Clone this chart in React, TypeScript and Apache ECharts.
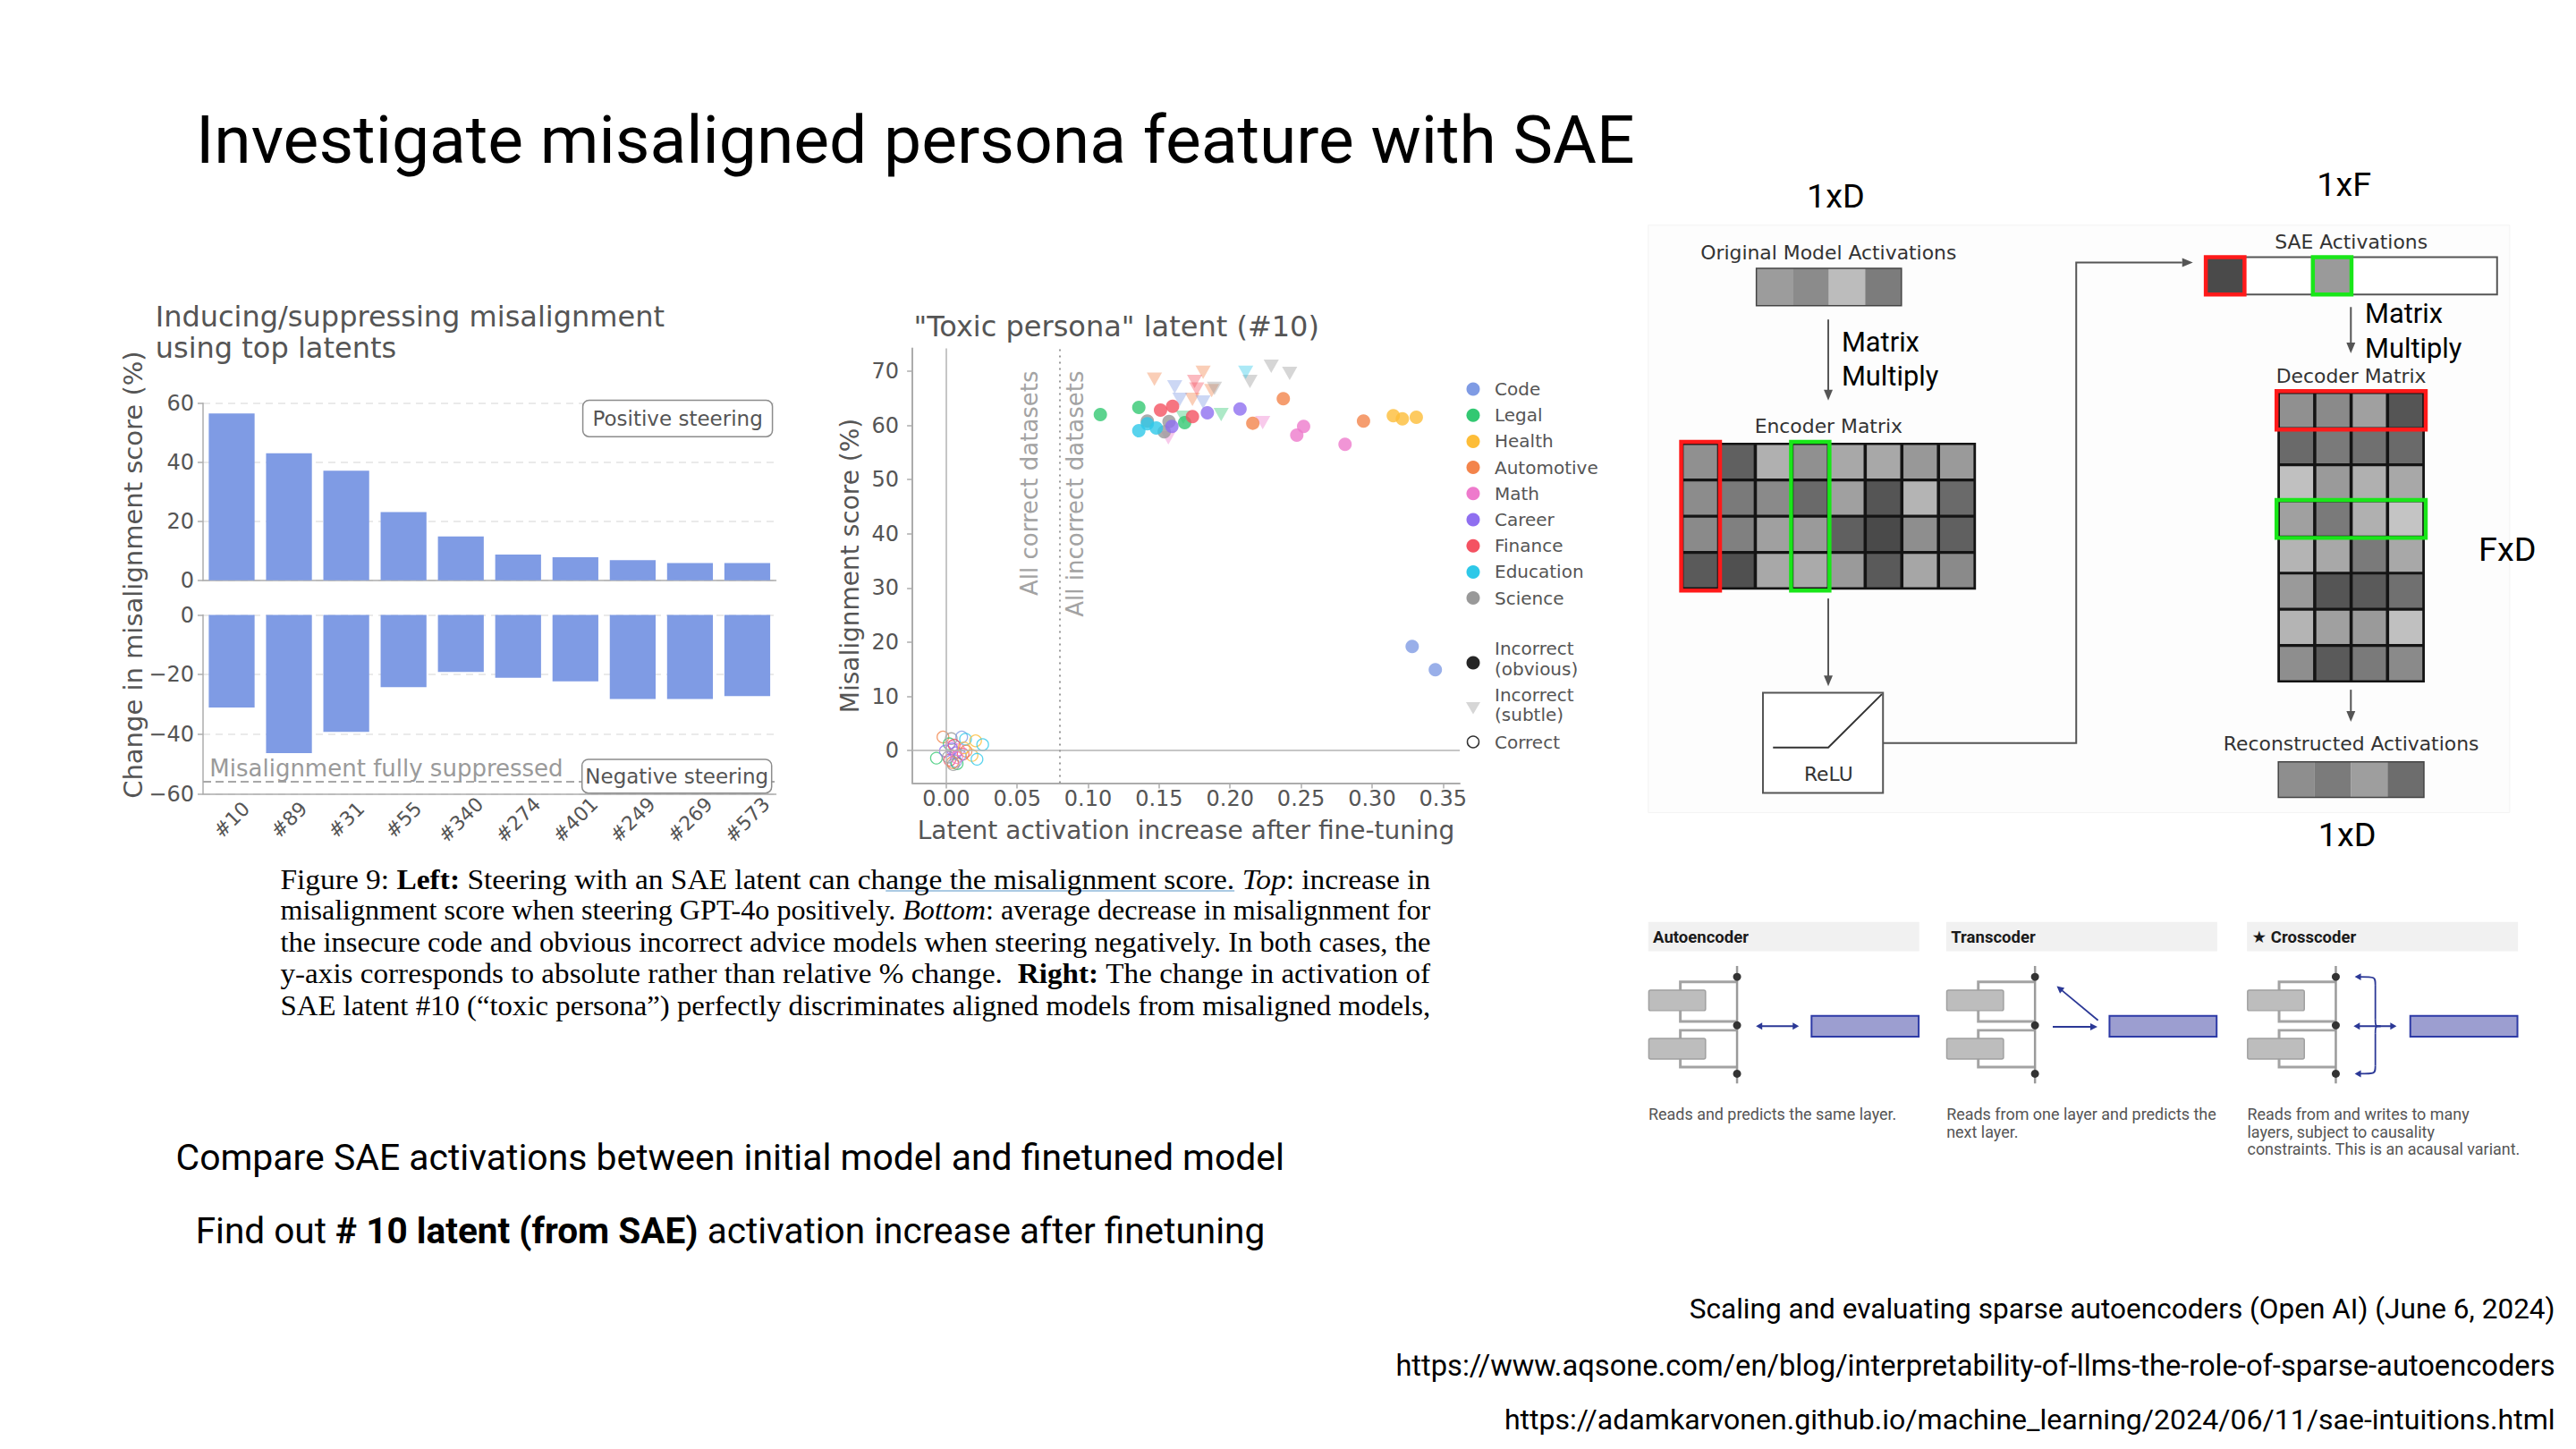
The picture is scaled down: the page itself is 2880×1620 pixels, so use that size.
import React, { useEffect, useRef } from "react";
import * as echarts from "echarts";

/* ================= Left chart: steering bars ================= */
const latentLabels = ["#10", "#89", "#31", "#55", "#340", "#274", "#401", "#249", "#269", "#573"];
const positiveSteering = [56.5, 43.0, 37.1, 23.1, 14.8, 8.7, 7.8, 6.8, 5.8, 5.8];
const negativeSteering = [-31.0, -46.3, -39.2, -24.2, -19.1, -21.1, -22.3, -28.2, -28.2, -27.2];
const fullySuppressedLevel = -55.7;

/* ================= Right chart: toxic persona latent ================= */
const domainNames = ["Code", "Legal", "Health", "Automotive", "Math", "Career", "Finance", "Education", "Science"];
const domainColors = ["#7f9be4", "#33c872", "#fdbd38", "#f3844b", "#ee7acc", "#8f6ff0", "#f45262", "#2ec8e8", "#999999"];
const scatterXTicks = [0, 0.05, 0.1, 0.15, 0.2, 0.25, 0.3, 0.35];
const scatterYTicks = [0, 10, 20, 30, 40, 50, 60, 70];
const correctBoundary = 0.0755;

// [domain, latent activation increase, misalignment score]
const incorrectObvious: [string, number, number][] = [
  ["Science", 0.1417, 60.8], ["Science", 0.157, 60.7], ["Science", 0.1536, 58.8],
  ["Legal", 0.1086, 62.0], ["Legal", 0.1357, 63.3], ["Legal", 0.168, 60.5],
  ["Education", 0.1357, 59.0], ["Education", 0.1417, 60.3], ["Education", 0.148, 59.5],
  ["Finance", 0.151, 62.8], ["Finance", 0.1595, 63.5], ["Finance", 0.1735, 61.6],
  ["Career", 0.159, 59.8], ["Career", 0.184, 62.3], ["Career", 0.207, 63.0],
  ["Automotive", 0.2375, 64.9], ["Automotive", 0.216, 60.4], ["Automotive", 0.294, 60.8],
  ["Math", 0.2518, 59.8], ["Math", 0.247, 58.2], ["Math", 0.281, 56.5],
  ["Health", 0.315, 61.8], ["Health", 0.3214, 61.2], ["Health", 0.3312, 61.5],
  ["Code", 0.3283, 19.2], ["Code", 0.3446, 14.9],
];
const incorrectSubtle: [string, number, number][] = [
  ["Automotive", 0.1467, 68.5], ["Automotive", 0.181, 69.8], ["Automotive", 0.1735, 64.8], ["Automotive", 0.187, 66.4],
  ["Code", 0.161, 67.1], ["Code", 0.1646, 64.8], ["Code", 0.181, 64.3],
  ["Finance", 0.175, 68.1], ["Finance", 0.1765, 66.7],
  ["Science", 0.189, 66.8], ["Science", 0.214, 68.1], ["Science", 0.229, 70.9], ["Science", 0.242, 69.6],
  ["Education", 0.211, 69.8],
  ["Legal", 0.1937, 62.0], ["Legal", 0.167, 61.5],
  ["Math", 0.223, 60.5], ["Math", 0.1565, 57.7],
];
const correctPoints: [string, number, number][] = [
  ["Automotive", -0.0023, 2.5], ["Legal", -0.0069, -1.4], ["Science", 0.0036, 2.2], ["Legal", 0.0021, 1.25],
  ["Code", 0.0109, 2.5], ["Education", 0.0136, 2.1], ["Health", 0.0207, 1.8], ["Education", 0.0257, 1.1],
  ["Career", -0.0006, -0.1], ["Math", 0.0036, 0.7], ["Finance", 0.0025, -1.75], ["Code", 0.0067, -2.0],
  ["Legal", 0.0077, -2.4], ["Science", 0.005, -2.6], ["Health", 0.0182, -0.9], ["Education", 0.0217, -1.6],
  ["Finance", 0.0119, -0.65], ["Math", 0.0088, 0.16], ["Career", 0.0067, -0.4], ["Automotive", 0.014, -0.1],
  ["Finance", 0.0056, 1.0], ["Code", 0.0098, -0.9], ["Automotive", 0.0045, -2.2], ["Science", 0.0015, -1.2],
  ["Career", 0.004, 0.3], ["Health", 0.0125, 0.5], ["Math", 0.0075, -1.3],
];

/* ================= SAE diagram shades ================= */
const originalShades = ["#9c9c9c", "#8b8b8b", "#bcbcbc", "#7c7c7c"];
const encoderShades = [
  ["#909090", "#606060", "#b0b0b0", "#909090", "#a8a8a8", "#a8a8a8", "#989898", "#9a9a9a"],
  ["#8c8c8c", "#7a7a7a", "#8a8a8a", "#6a6a6a", "#a0a0a0", "#555555", "#b4b4b4", "#6a6a6a"],
  ["#8a8a8a", "#808080", "#a0a0a0", "#9a9a9a", "#606060", "#4a4a4a", "#8e8e8e", "#606060"],
  ["#5a5a5a", "#505050", "#a8a8a8", "#aaaaaa", "#9a9a9a", "#5a5a5a", "#a6a6a6", "#8a8a8a"],
];
const decoderShades = [
  ["#909090", "#8a8a8a", "#a0a0a0", "#555555"],
  ["#6a6a6a", "#7a7a7a", "#707070", "#6a6a6a"],
  ["#c0c0c0", "#9a9a9a", "#b0b0b0", "#a8a8a8"],
  ["#a0a0a0", "#7a7a7a", "#b0b0b0", "#c4c4c4"],
  ["#b4b4b4", "#a8a8a8", "#7a7a7a", "#a8a8a8"],
  ["#9a9a9a", "#555555", "#5a5a5a", "#707070"],
  ["#b4b4b4", "#a0a0a0", "#9a9a9a", "#c0c0c0"],
  ["#8e8e8e", "#5a5a5a", "#7a7a7a", "#8a8a8a"],
];
const reconstructedShades = ["#8e8e8e", "#7b7b7b", "#9e9e9e", "#6d6d6d"];

/* ================= Slide texts ================= */
const slideTitle = "Investigate misaligned persona feature with SAE";
const captionLines: [string, string][][] = [
  [["n", "Figure 9: "], ["b", "Left:"], ["n", " Steering with an SAE latent can change the misalignment score. "], ["i", "Top"], ["n", ": increase in"]],
  [["n", "misalignment score when steering GPT-4o positively. "], ["i", "Bottom"], ["n", ": average decrease in misalignment for"]],
  [["n", "the insecure code and obvious incorrect advice models when steering negatively. In both cases, the"]],
  [["n", "y-axis corresponds to absolute rather than relative % change.  "], ["b", "Right:"], ["n", " The change in activation of"]],
  [["n", "SAE latent #10 (\u201ctoxic persona\u201d) perfectly discriminates aligned models from misaligned models,"]],
];
const bullet1 = "Compare SAE activations between initial model and finetuned model";
const bullet2: [string, string][] = [["n", "Find out "], ["b", "# 10 latent (from SAE)"], ["n", " activation increase after finetuning"]];
const references = [
  "Scaling and evaluating sparse autoencoders (Open AI) (June 6, 2024)",
  "https://www.aqsone.com/en/blog/interpretability-of-llms-the-role-of-sparse-autoencoders",
  "https://adamkarvonen.github.io/machine_learning/2024/06/11/sae-intuitions.html",
];

/* ================= helpers ================= */
const MPL = "'DejaVu Sans'";
const PPT = "Roboto, 'DejaVu Sans'";
const GT = "#555555";
const AX = "#acacac";
const SLIDE_K = 1.837 / 1.846; // layout measured on a slightly mis-scaled view

let measureCtx: CanvasRenderingContext2D | null = null;
function measure(text: string, font: string): number {
  if (!measureCtx) measureCtx = document.createElement("canvas").getContext("2d");
  if (!measureCtx) return text.length * 10;
  measureCtx.font = font;
  return measureCtx.measureText(text).width;
}
function colorOf(d: string) {
  return domainColors[domainNames.indexOf(d)];
}
function T(text: string, x: number, y: number, font: string, fill: string, align = "left", extra: any = {}) {
  return {
    type: "text", x, y, z: 20, silent: true, ...extra,
    style: { text, font, fill, align, verticalAlign: "middle", textAlign: align, textVerticalAlign: "middle" },
  };
}
function R(x: number, y: number, w: number, h: number, fill: string | null, stroke?: string, lw = 1, r = 0) {
  return { type: "rect", z: 15, silent: true, shape: { x, y, width: w, height: h, r }, style: { fill, stroke: stroke || null, lineWidth: lw } };
}
function L(x1: number, y1: number, x2: number, y2: number, stroke: string, lw = 2) {
  return { type: "line", z: 15, silent: true, shape: { x1, y1, x2, y2 }, style: { stroke, lineWidth: lw } };
}
function P(points: number[][], stroke: string, lw = 2) {
  return { type: "polyline", z: 15, silent: true, shape: { points }, style: { stroke, lineWidth: lw, fill: null } };
}
function C(cx: number, cy: number, r: number, fill: string | null, stroke?: string, lw = 1) {
  return { type: "circle", z: 16, silent: true, shape: { cx, cy, r }, style: { fill, stroke: stroke || null, lineWidth: lw } };
}
function head(tx: number, ty: number, dx: number, dy: number, color: string, len = 12, half = 5) {
  const l = Math.hypot(dx, dy);
  const ux = dx / l, uy = dy / l;
  const bx = tx - ux * len, by = ty - uy * len;
  const px = -uy, py = ux;
  return {
    type: "polygon", z: 17, silent: true,
    shape: { points: [[tx, ty], [bx + px * half, by + py * half], [bx - px * half, by - py * half]] },
    style: { fill: color },
  };
}
function segFont(style: string, size: number, family: string) {
  return `${style === "i" ? "italic " : ""}${style === "b" ? "bold " : ""}${size}px ${family}`;
}
function segWidth(segs: [string, string][], size: number, family: string) {
  return segs.reduce((a, [s, t]) => a + measure(t, segFont(s, size, family)), 0);
}
function segLine(segs: [string, string][], x: number, y: number, size: number, family: string, fill: string, scaleX = 1) {
  const children: any[] = [];
  let pos = 0;
  segs.forEach(([s, t]) => {
    const f = segFont(s, size, family);
    const lead = (t.match(/^ */) || [""])[0];
    const content = t.trim();
    if (content) children.push(T(content, pos + measure(lead, f), 0, f, fill));
    pos += measure(t, f);
  });
  return { type: "group", x, y, scaleX, z: 20, silent: true, children };
}

/* ================= chart decorations (absolute) ================= */
function chartDecorations() {
  const g: any[] = [];
  // left chart
  g.push(T("Inducing/suppressing misalignment", 173.7, 353.8, `32px ${MPL}`, GT));
  g.push(T("using top latents", 173.7, 388.5, `32px ${MPL}`, GT));
  g.push(T("Change in misalignment score (%)", 149.4, 642.6, `29px ${MPL}`, GT, "center", { rotation: Math.PI / 2 }));
  g.push(T("Misalignment fully suppressed", 234.3, 859, `26px ${MPL}`, "#9a9a9a"));
  g.push(R(651.6, 447.4, 212, 40.8, "#ffffff", "#8c8c8c", 1.5, 7));
  g.push(T("Positive steering", 757.6, 467.8, `23px ${MPL}`, GT, "center"));
  g.push(R(650.7, 849, 212, 37.7, "#ffffff", "#8c8c8c", 1.5, 7));
  g.push(T("Negative steering", 756.7, 867.9, `23px ${MPL}`, GT, "center"));

  // right chart
  g.push(T('"Toxic persona" latent (#10)', 1021.5, 365, `32px ${MPL}`, GT));
  g.push(T("Misalignment score (%)", 950.7, 632.5, `28px ${MPL}`, GT, "center", { rotation: Math.PI / 2 }));
  g.push(T("Latent activation increase after fine-tuning", 1326, 928, `28px ${MPL}`, GT, "center"));
  g.push(T("All correct datasets", 1151.3, 414.4, `26px ${MPL}`, "#a3a3a3", "right", { rotation: Math.PI / 2 }));
  g.push(T("All incorrect datasets", 1201.9, 414.4, `26px ${MPL}`, "#a3a3a3", "right", { rotation: Math.PI / 2 }));

  // legend
  domainNames.forEach((n, i) => {
    const y = 435 + i * 29.2;
    g.push(C(1647, y, 7.5, domainColors[i]));
    g.push(T(n, 1671, y, `20px ${MPL}`, GT));
  });
  g.push(C(1647, 741, 7.5, "#262626"));
  g.push(T("Incorrect", 1671, 725, `20px ${MPL}`, GT));
  g.push(T("(obvious)", 1671, 747.5, `20px ${MPL}`, GT));
  g.push({ type: "polygon", z: 16, silent: true, shape: { points: [[1639, 785], [1655, 785], [1647, 798.5]] }, style: { fill: "#d6d6d6" } });
  g.push(T("Incorrect", 1671, 776.5, `20px ${MPL}`, GT));
  g.push(T("(subtle)", 1671, 798.5, `20px ${MPL}`, GT));
  g.push(C(1647, 829.5, 6.5, null, "#333333", 1.5));
  g.push(T("Correct", 1671, 829.5, `20px ${MPL}`, GT));
  return g;
}

/* ================= slide elements (measured on the overview) ================= */
function slideElements() {
  const g: any[] = [];

  const titleSize = (76 * 1617) / measure(slideTitle, `76px ${PPT}`);
  g.push(T(slideTitle, 220, 157, `${titleSize}px ${PPT}`, "#000000"));

  // caption
  const capX0 = 315, capX1 = 1607;
  const capYs = [988, 1023, 1058.5, 1094, 1130];
  const capFamily = "'Liberation Serif'";
  let capSize = 31;
  const maxNat = Math.max(...captionLines.map((l) => segWidth(l, capSize, capFamily)));
  if (maxNat > capX1 - capX0) capSize = (capSize * (capX1 - capX0)) / maxNat;
  captionLines.forEach((l, i) => {
    const nat = segWidth(l, capSize, capFamily);
    const sx = (capX1 - capX0) / nat;
    g.push(segLine(l, capX0, capYs[i], capSize, capFamily, "#000000", sx));
    if (i === 0) {
      const pre: [string, string][] = [["n", "Figure 9: "], ["b", "Left:"], ["n", " Steering with an SAE latent can ch"]];
      const a = capX0 + sx * segWidth(pre, capSize, capFamily);
      const b = a + sx * measure("ange the misalignment score.", segFont("n", capSize, capFamily));
      g.push(L(a, 1001, b, 1001, "#8fb9da", 1.5));
    }
  });

  // bullets
  const b1Size = (40 * 1246) / measure(bullet1, `40px ${PPT}`);
  g.push(T(bullet1, 197.5, 1300, `${b1Size}px ${PPT}`, "#000000"));
  const b2Size = (40 * 1202) / segWidth(bullet2, 40, PPT);
  g.push(segLine(bullet2, 219.7, 1383, b2Size, PPT, "#000000"));

  // references
  const refW = [973, 1303, 1181];
  const refY = [1471, 1534, 1595];
  references.forEach((r, i) => {
    const s = (30 * refW[i]) / measure(r, `30px ${PPT}`);
    g.push(T(r, 2870.6, refY[i], `${s}px ${PPT}`, "#000000", "right"));
  });

  // ---- SAE diagram ----
  g.push({ ...R(1852, 253, 968, 660, "#fdfdfd", "#f3f3f3", 1), z: 5 });
  g.push(T("1xD", 2062.4, 220, `38px ${PPT}`, "#000000", "center"));
  g.push(T("1xF", 2633.5, 207.5, `38px ${PPT}`, "#000000", "center"));
  g.push(T("FxD", 2817, 617.5, `38px ${PPT}`, "#000000", "center"));
  g.push(T("1xD", 2637, 937.5, `38px ${PPT}`, "#000000", "center"));

  const dark = "#555555";
  g.push(T("Original Model Activations", 2054.3, 283.5, `22px ${MPL}`, "#333333", "center"));
  originalShades.forEach((c, i) => g.push(R(1973.5 + i * 40.75, 301.5, 40.75, 42, c)));
  g.push(R(1973.5, 301.5, 163, 42, null, "#444444", 1.5));

  g.push(L(2054.3, 359, 2054.3, 440, dark, 2));
  g.push(head(2054.3, 450, 0, 1, dark));
  g.push(T("Matrix", 2069, 384, `31px ${PPT}`, "#000000"));
  g.push(T("Multiply", 2069, 422.5, `31px ${PPT}`, "#000000"));

  g.push(T("Encoder Matrix", 2054.3, 479, `22px ${MPL}`, "#333333", "center"));
  const ex0 = 1890, ey0 = 498.5, ecw = 41.16, ech = 40.75;
  g.push(R(ex0 - 1, ey0 - 1, ecw * 8 + 2, ech * 4 + 2, "#141414"));
  encoderShades.forEach((row, r) =>
    row.forEach((c, k) => g.push(R(ex0 + k * ecw + 1.8, ey0 + r * ech + 1.6, ecw - 3.6, ech - 3.2, c)))
  );
  g.push({ ...R(ex0 - 1, ey0 - 2, ecw + 2.5, ech * 4 + 4, null, "#ff1a1a", 4.5), z: 18 });
  g.push({ ...R(ex0 + 3 * ecw - 1, ey0 - 2, ecw + 2, ech * 4 + 4, null, "#19e619", 4.5), z: 18 });

  g.push(L(2054.3, 672.5, 2054.3, 760, dark, 2));
  g.push(head(2054.3, 771, 0, 1, dark));
  g.push(R(1980.9, 778.5, 134.9, 112.5, "#ffffff", dark, 2));
  g.push(P([[1992.2, 840], [2054.3, 840], [2114.5, 780]], "#333333", 2));
  g.push(T("ReLU", 2054.3, 870, `22px ${MPL}`, "#333333", "center"));

  g.push(P([[2115.8, 835], [2332.9, 835], [2332.9, 295], [2452, 295]], dark, 2));
  g.push(head(2464, 295, 1, 0, dark));

  g.push(T("SAE Activations", 2641.5, 271.5, `22px ${MPL}`, "#333333", "center"));
  g.push(R(2478.5, 289, 327.3, 42, "#ffffff", "#555555", 2));
  g.push({ ...R(2478.5, 289, 43.5, 42, "#4a4a4a", "#ff1a1a", 4.5), z: 18 });
  g.push({ ...R(2598.8, 289, 43.4, 42, "#9a9a9a", "#19e619", 4.5), z: 18 });

  g.push(L(2641.5, 345, 2641.5, 386, dark, 2));
  g.push(head(2641.5, 397, 0, 1, dark));
  g.push(T("Matrix", 2657, 352.5, `31px ${PPT}`, "#000000"));
  g.push(T("Multiply", 2657, 391.5, `31px ${PPT}`, "#000000"));

  g.push(T("Decoder Matrix", 2641.5, 422.5, `22px ${MPL}`, "#333333", "center"));
  const dx0 = 2560, dy0 = 441, dcw = 40.9, dch = 40.6;
  g.push(R(dx0 - 1, dy0 - 1, dcw * 4 + 2, dch * 8 + 2, "#141414"));
  decoderShades.forEach((row, r) =>
    row.forEach((c, k) => g.push(R(dx0 + k * dcw + 1.8, dy0 + r * dch + 1.6, dcw - 3.6, dch - 3.2, c)))
  );
  g.push({ ...R(dx0 - 2, dy0 - 1.5, dcw * 4 + 4, dch + 2.5, null, "#ff1a1a", 4.5), z: 18 });
  g.push({ ...R(dx0 - 2, dy0 + 3 * dch - 1, dcw * 4 + 4, dch + 2, null, "#19e619", 4.5), z: 18 });

  g.push(L(2641.5, 775, 2641.5, 800, dark, 2));
  g.push(head(2641.5, 811, 0, 1, dark));
  g.push(T("Reconstructed Activations", 2641.5, 836, `22px ${MPL}`, "#333333", "center"));
  reconstructedShades.forEach((c, i) => g.push(R(2560 + i * 40.9, 856, 40.9, 40, c)));
  g.push(R(2560, 856, 163.6, 40, null, "#444444", 1.5));

  // ---- autoencoder / transcoder / crosscoder panels ----
  const PX = (zx: number) => 1844.3 + zx * 0.6438;
  const PY = (zy: number) => 1025 + zy * 0.33;
  const navy = "#2b3896";
  const headSize = (16 * 107.5) / measure("Autoencoder", `bold 16px ${PPT}`);
  const bodySize = (16 * 278.8) / measure("Reads and predicts the same layer.", `16px ${PPT}`);
  const panel = (b: number, title: string, lines: string[]) => {
    g.push(R(PX(b), PY(33), 473 * 0.6438, 100 * 0.33, "#f1f1f1"));
    g.push(T(title, PX(b + 8), PY(85), `bold ${headSize}px ${PPT}`, "#1a1a1a"));
    const rx = PX(b + 155), bx = PX(b + 56);
    const br = "#a3a3a3";
    g.push(P([[rx, PY(237)], [bx, PY(237)], [bx, PY(265)]], br, 3));
    g.push(P([[bx, PY(335)], [bx, PY(372)], [rx, PY(372)]], br, 3));
    g.push(P([[rx, PY(402)], [bx, PY(402)], [bx, PY(430)]], br, 3));
    g.push(P([[bx, PY(500)], [bx, PY(527)], [rx, PY(527)]], br, 3));
    g.push({ ...R(PX(b + 1), PY(265), 99 * 0.6438, 70 * 0.33, "#bdbdbd", "#a0a0a0", 1.5, 2), z: 16 });
    g.push({ ...R(PX(b + 1), PY(430), 99 * 0.6438, 70 * 0.33, "#bdbdbd", "#a0a0a0", 1.5, 2), z: 16 });
    g.push(L(rx, PY(183), rx, PY(583), "#9a9a9a", 2.5));
    [220, 385, 550].forEach((zy) => g.push(C(rx, PY(zy), 4.5, "#333333")));
    g.push({ ...R(PX(b + 285), PY(353), 187 * 0.6438, 71 * 0.33, "#9c9ed0", "#2d3aa6", 2), z: 16 });
    lines.forEach((l, i) => g.push(T(l, PX(b), PY(688) + i * 19.6, `${bodySize}px ${PPT}`, "#555555")));
  };
  panel(12, "Autoencoder", ["Reads and predicts the same layer."]);
  panel(532, "Transcoder", ["Reads from one layer and predicts the", "next layer."]);
  panel(1057, "\u2605 Crosscoder", ["Reads from and writes to many", "layers, subject to causality", "constraints. This is an acausal variant."]);

  g.push(L(PX(205), PY(388), PX(270), PY(388), navy, 2));
  g.push(head(PX(200), PY(388), -1, 0, navy, 7, 4));
  g.push(head(PX(275), PY(388), 1, 0, navy, 7, 4));
  g.push(L(PX(718), PY(390), PX(788), PY(390), navy, 2));
  g.push(head(PX(796), PY(390), 1, 0, navy, 8, 4));
  g.push(L(PX(797), PY(368), PX(729), PY(258), navy, 1.8));
  g.push(head(PX(725), PY(252), PX(725) - PX(797), PY(252) - PY(368), navy, 8, 4));
  const sx = PX(1281), yT = PY(220), yM = PY(388), yB = PY(550), tipX = PX(1245);
  g.push(L(PX(1248), yM, PX(1312), yM, navy, 2));
  g.push(head(PX(1243), yM, -1, 0, navy, 7, 4));
  g.push(head(PX(1318), yM, 1, 0, navy, 7, 4));
  const bz = (x1: number, y1: number, cx: number, cy: number, x2: number, y2: number) => ({
    type: "bezierCurve", z: 15, silent: true,
    shape: { x1, y1, cpx1: cx, cpy1: cy, cpx2: cx, cpy2: cy, x2, y2 },
    style: { stroke: navy, lineWidth: 1.8, fill: null },
  });
  g.push(bz(tipX + 5, yT, sx, yT, sx, yT + 9));
  g.push(L(sx, yT + 9, sx, yM - 8, navy, 1.8));
  g.push(bz(sx, yM - 8, sx, yM, sx + 6, yM));
  g.push(bz(sx + 6, yM, sx, yM, sx, yM + 8));
  g.push(L(sx, yM + 8, sx, yB - 9, navy, 1.8));
  g.push(bz(sx, yB - 9, sx, yB, tipX + 5, yB));
  g.push(head(tipX, yT, -1, 0, navy, 7, 4));
  g.push(head(tipX, yB, -1, 0, navy, 7, 4));

  return [{ type: "group", x: 0, y: 0, scaleX: SLIDE_K, scaleY: SLIDE_K, z: 20, silent: true, children: g }];
}

/* ================= option ================= */
function buildOption() {
  const minus = (v: number) => (v < 0 ? "\u2212" + Math.abs(v) : String(v));
  const barY = (gi: number, min: number, max: number) => ({
    type: "value", gridIndex: gi, min, max, interval: 20,
    axisLine: { show: true, onZero: false, lineStyle: { color: AX, width: 1.5 } },
    axisTick: { show: true, length: 6, lineStyle: { color: AX, width: 1.5 } },
    axisLabel: { fontSize: 24, color: GT, margin: 10, fontFamily: "DejaVu Sans", formatter: minus },
    splitLine: { show: true, lineStyle: { color: "#e4e4e4", width: 1.5, type: [8, 6] } },
  });
  const subtleData = incorrectSubtle.map(([d, x, y]) => ({ value: [x, y], itemStyle: { color: colorOf(d), opacity: 0.4 } }));
  const obviousData = incorrectObvious.map(([d, x, y]) => ({ value: [x, y], itemStyle: { color: colorOf(d) } }));
  const correctData = correctPoints.map(([d, x, y]) => ({
    value: [x, y], itemStyle: { color: "rgba(255,255,255,0)", borderColor: colorOf(d), borderWidth: 1.3 },
  }));

  return {
    animation: false,
    backgroundColor: "#ffffff",
    textStyle: { fontFamily: "DejaVu Sans" },
    grid: [
      { left: 227, top: 450.7, width: 640.5, height: 198 },
      { left: 227, top: 687.5, width: 640.5, height: 200.1 },
      { left: 1020.1, top: 389.5, width: 611.9, height: 486 },
    ],
    xAxis: [
      {
        type: "category", gridIndex: 0, data: latentLabels,
        axisLine: { show: true, lineStyle: { color: AX, width: 1.5 } },
        axisTick: { show: false }, axisLabel: { show: false },
      },
      {
        type: "category", gridIndex: 1, data: latentLabels, position: "bottom",
        axisLine: { show: true, onZero: false, lineStyle: { color: AX, width: 1.5 } },
        axisTick: { show: false },
        axisLabel: { interval: 0, rotate: 45, align: "center", verticalAlign: "middle", margin: 29, fontSize: 22, color: GT, fontFamily: "DejaVu Sans" },
      },
      {
        type: "value", gridIndex: 2, min: -0.0238, max: 0.3618,
        axisLine: { show: true, onZero: false, lineStyle: { color: AX, width: 2 } },
        axisTick: { show: true, length: 6, customValues: scatterXTicks, lineStyle: { color: AX, width: 1.5 } },
        axisLabel: { customValues: scatterXTicks, fontSize: 24, color: GT, margin: 5, fontFamily: "DejaVu Sans", formatter: (v: number) => v.toFixed(2) },
        splitLine: { show: false },
      },
    ],
    yAxis: [
      barY(0, 0, 60),
      barY(1, -60, 0),
      {
        type: "value", gridIndex: 2, min: -6, max: 74.2,
        axisLine: { show: true, onZero: false, lineStyle: { color: AX, width: 2 } },
        axisTick: { show: true, length: 6, customValues: scatterYTicks, lineStyle: { color: AX, width: 1.5 } },
        axisLabel: { customValues: scatterYTicks, fontSize: 24, color: GT, margin: 15, fontFamily: "DejaVu Sans" },
        splitLine: { show: false },
      },
    ],
    series: [
      {
        type: "bar", name: "Positive steering", xAxisIndex: 0, yAxisIndex: 0, data: positiveSteering,
        barWidth: "80%", itemStyle: { color: "#7f9be4" }, silent: true,
      },
      {
        type: "bar", name: "Negative steering", xAxisIndex: 1, yAxisIndex: 1, data: negativeSteering,
        barWidth: "80%", itemStyle: { color: "#7f9be4" }, silent: true,
        markLine: {
          silent: true, symbol: ["none", "none"], label: { show: false },
          lineStyle: { color: "#a8a8a8", width: 2, type: [9, 5] },
          data: [{ yAxis: fullySuppressedLevel }],
        },
      },
      {
        type: "scatter", name: "Correct", xAxisIndex: 2, yAxisIndex: 2, symbol: "circle", symbolSize: 13,
        data: correctData, silent: true, z: 3,
        markLine: {
          silent: true, symbol: ["none", "none"], label: { show: false },
          data: [
            { xAxis: 0, lineStyle: { color: "#b3b3b3", width: 1.5, type: "solid" } },
            { yAxis: 0, lineStyle: { color: "#b3b3b3", width: 1.5, type: "solid" } },
            { xAxis: correctBoundary, lineStyle: { color: "#9a9a9a", width: 2, type: [2, 5] } },
          ],
        },
      },
      {
        type: "scatter", name: "Incorrect (subtle)", xAxisIndex: 2, yAxisIndex: 2, symbol: "triangle",
        symbolRotate: 180, symbolSize: [17, 15], data: subtleData, silent: true, z: 4,
      },
      {
        type: "scatter", name: "Incorrect (obvious)", xAxisIndex: 2, yAxisIndex: 2, symbol: "circle",
        symbolSize: 15, data: obviousData, silent: true, z: 5,
      },
    ],
    graphic: { elements: [...chartDecorations(), ...slideElements()] },
  };
}

export default function App() {
  const ref = useRef<HTMLDivElement | null>(null);
  useEffect(() => {
    if (!ref.current) return;
    const chart = echarts.init(ref.current, undefined, { renderer: "svg" });
    chart.setOption(buildOption() as any);
    return () => chart.dispose();
  }, []);
  return (
    <div
      ref={ref}
      style={{ position: "fixed", left: 0, top: 0, width: 2880, height: 1620, background: "#ffffff" }}
    />
  );
}
